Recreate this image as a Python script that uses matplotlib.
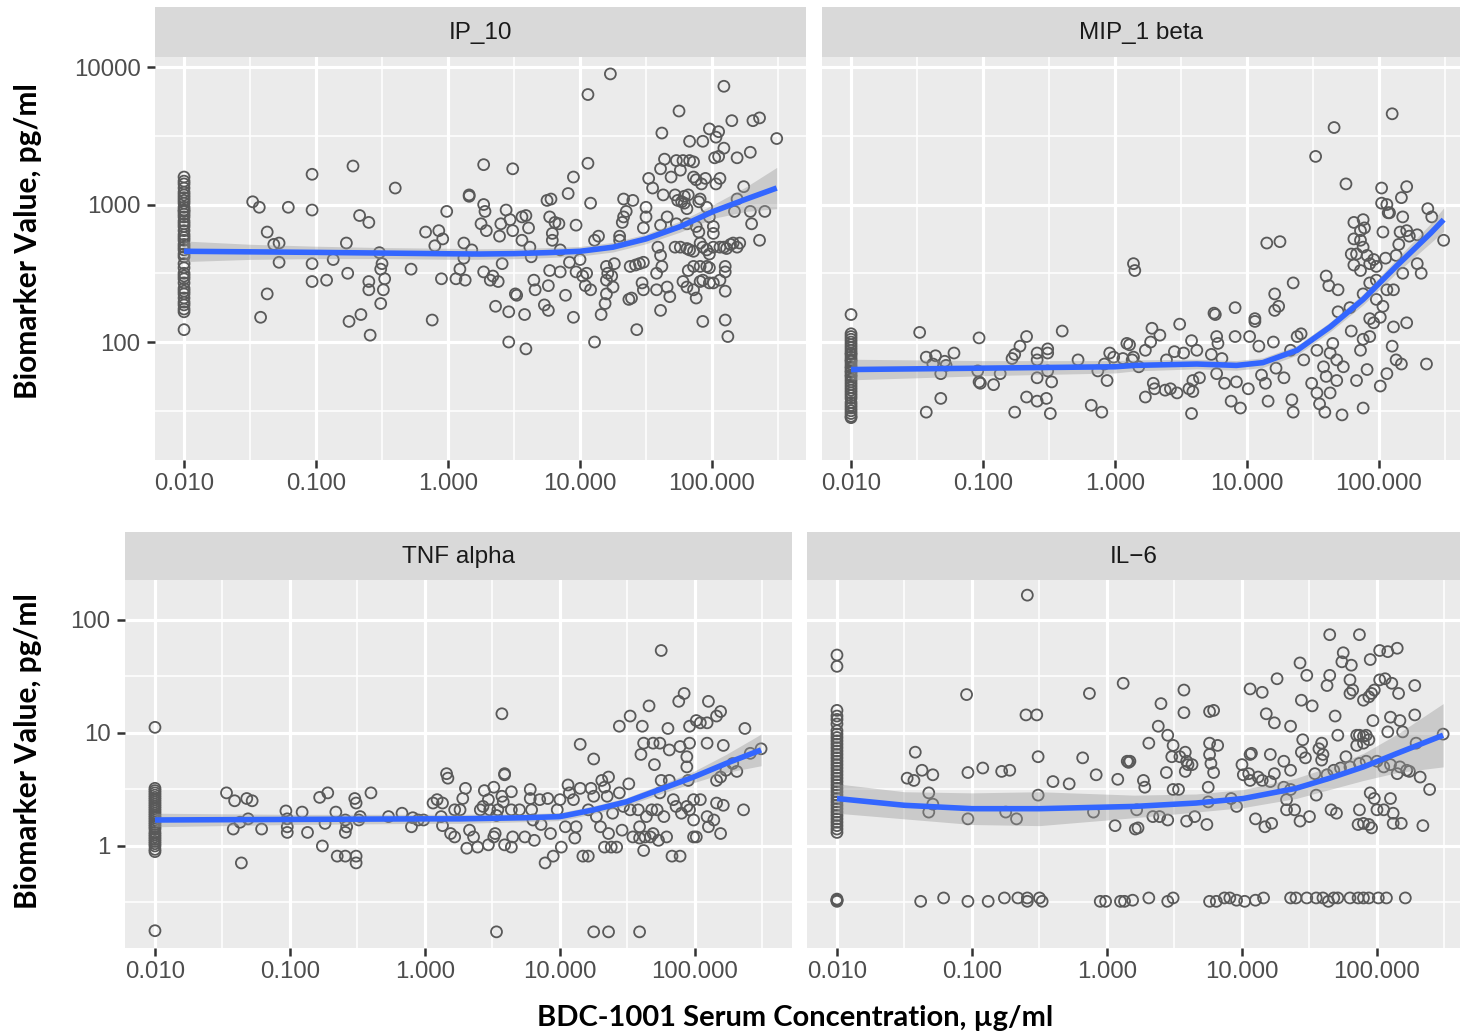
import numpy as np
import matplotlib
matplotlib.use("Agg")
import matplotlib.pyplot as plt
from matplotlib.ticker import FixedLocator, FixedFormatter, NullFormatter

plt.rcParams['font.family'] = ['Liberation Sans', 'DejaVu Sans']

# ---------------- DATA (log10 units) ----------------
# x = log10(BDC-1001 serum concentration, ug/ml); y = log10(biomarker, pg/ml)
# points at the 0.010 ug/ml column (below quantitation)
LOD_X = -2.0

ip10_lod = [3.20, 3.17, 3.15, 3.12, 3.09, 3.07, 3.05, 3.03, 3.01, 2.98, 2.96, 2.95, 2.93, 2.91,
            2.88, 2.86, 2.84, 2.81, 2.78, 2.76, 2.74, 2.71, 2.69, 2.67, 2.64, 2.62, 2.57, 2.54,
            2.50, 2.48, 2.46, 2.43, 2.39, 2.37, 2.35, 2.32, 2.29, 2.27, 2.24, 2.22, 2.09]
ip10_pts = [(-1.48,3.02),(-1.43,2.98),(-1.21,2.98),(-1.03,3.22),(-1.03,2.96),(-0.72,3.28),(-0.40,3.12),
    (-1.37,2.80),(-1.32,2.71),(-1.28,2.72),(-1.28,2.58),(-1.37,2.35),(-1.42,2.18),(-1.03,2.57),(-1.03,2.44),
    (-0.92,2.45),(-0.87,2.60),(-0.77,2.72),(-0.76,2.50),(-0.67,2.92),(-0.60,2.87),(-0.75,2.15),(-0.66,2.20),
    (-0.59,2.05),(-0.52,2.65),(-0.50,2.57),(-0.51,2.53),(-0.48,2.46),(-0.60,2.44),(-0.60,2.38),(-0.49,2.38),
    (-0.51,2.28),(-0.28,2.53),(-0.17,2.80),(-0.07,2.81),(-0.04,2.75),(-0.10,2.70),(-0.01,2.95),(-0.12,2.16),
    (-0.05,2.46),(0.06,2.46),(0.13,2.45),(0.09,2.53),(0.12,2.61),(0.12,2.72),(0.18,2.67),(0.16,3.07),(0.16,3.06),
    (0.27,3.29),(0.49,3.26),(0.27,3.00),(0.28,2.95),(0.29,2.81),(0.25,2.86),(0.27,2.51),(0.32,2.45),(0.38,2.44),
    (0.34,2.48),(0.36,2.26),(0.46,2.22),(0.46,2.00),(0.59,1.95),(0.58,2.20),(0.52,2.34),(0.51,2.35),(0.41,2.57),
    (0.39,2.77),(0.40,2.86),(0.44,2.96),(0.47,2.89),(0.49,2.81),(0.56,2.74),(0.56,2.91),(0.59,2.92),(0.61,2.83),
    (0.62,2.69),(0.63,2.62),(0.65,2.45),(0.66,2.38),(0.73,2.27),(0.76,2.23),(0.76,2.41),(0.77,2.52),(0.85,2.51),
    (0.89,2.34),(0.91,3.08),(0.95,3.20),(0.97,2.85),(0.95,2.18),(0.75,3.03),(0.78,3.04),(0.77,2.91),(0.81,2.87),
    (0.84,2.86),(0.79,2.79),(0.79,2.74),(0.85,2.67),(0.92,2.58),(0.97,2.51),(1.00,2.60),(1.02,2.48),(1.04,2.41),
    (1.05,2.50),(1.08,2.38),(1.11,2.00),(1.06,3.80),(1.06,3.30),(1.08,3.01),(1.11,2.74),(1.14,2.77),(1.16,2.20),
    (1.20,2.35),(1.20,2.45),(1.21,2.50),(1.24,2.48),(1.25,2.40),(1.19,2.28),(1.23,3.95),(1.20,2.55),(1.26,2.57),
    (1.30,2.77),(1.33,3.04),(1.40,3.03),(1.35,2.95),(1.33,2.91),(1.32,2.87),(1.30,2.74),(1.37,2.31),(1.39,2.32),
    (1.38,2.55),(1.43,2.09),(1.42,2.56),(1.45,2.57),(1.48,2.58),(1.47,2.43),(1.48,2.38),(1.50,2.98),(1.50,2.91),
    (1.48,2.83),(1.52,3.19),(1.55,3.12),(1.62,3.52),(1.61,3.26),(1.64,3.33),(1.69,3.20),(1.63,3.07),(1.66,2.91),
    (1.61,2.85),(1.59,2.69),(1.61,2.63),(1.62,2.55),(1.58,2.50),(1.58,2.38),(1.66,2.40),(1.68,2.33),(1.61,2.23),
    (1.73,3.32),(1.76,3.25),(1.78,3.32),(1.75,3.68),(1.72,3.07),(1.74,3.03),(1.77,3.02),(1.79,3.06),(1.79,3.01),
    (1.81,2.97),(1.82,3.07),(1.83,3.32),(1.86,3.31),(1.83,3.46),(1.93,3.46),(1.86,3.20),(1.88,3.18),(1.92,3.15),
    (1.95,3.19),(1.91,3.04),(1.90,3.02),(1.96,2.98),(1.98,2.91),(1.88,2.84),(1.90,2.80),(1.81,2.86),(1.73,2.86),
    (1.72,2.69),(1.76,2.69),(1.81,2.68),(1.83,2.67),(1.86,2.66),(1.91,2.72),(1.93,2.69),(1.96,2.67),(1.98,2.64),
    (2.01,2.69),(2.06,2.69),(1.82,2.52),(1.86,2.55),(1.91,2.55),(1.96,2.55),(1.98,2.54),(1.78,2.44),(1.81,2.40),
    (1.86,2.38),(1.91,2.44),(1.93,2.45),(1.98,2.43),(2.01,2.43),(1.88,2.32),(1.93,2.15),(1.98,3.55),(2.05,3.53),
    (2.03,3.49),(2.09,3.41),(2.02,3.34),(2.05,3.35),(2.09,3.86),(2.06,3.19),(2.03,3.15),(2.01,2.84),(2.01,2.79),
    (2.09,2.69),(2.11,2.68),(2.14,2.71),(2.19,2.69),(2.16,2.72),(2.21,2.72),(2.10,2.55),(2.10,2.51),(2.06,2.45),
    (2.10,2.37),(2.10,2.16),(2.12,2.04),(2.15,3.61),(2.19,3.34),(2.29,3.38),(2.31,3.61),(2.36,3.63),(2.24,3.13),
    (2.19,3.04),(2.17,2.95),(2.29,2.95),(2.30,2.86),(2.40,2.95),(2.36,2.74),(2.49,3.48)]
ip10_fit_x = [-2.0, -1.5, -1.0, -0.5, 0.0, 0.24, 0.5, 0.75, 1.0, 1.25, 1.5, 1.76, 2.01, 2.26, 2.49]
ip10_fit_y = [2.66, 2.656, 2.652, 2.647, 2.642, 2.64, 2.643, 2.65, 2.66, 2.69, 2.75, 2.84, 2.95, 3.04, 3.12]
ip10_fit_se = [0.075, 0.055, 0.045, 0.04, 0.04, 0.038, 0.037, 0.036, 0.035, 0.035, 0.035, 0.04, 0.05, 0.09, 0.15]

mip_lod = [2.20, 2.06, 2.04, 2.02, 2.00, 1.98, 1.96, 1.94, 1.92, 1.91, 1.89, 1.87, 1.86, 1.84, 1.82,
           1.81, 1.79, 1.78, 1.76, 1.75, 1.73, 1.71, 1.69, 1.67, 1.65, 1.63, 1.61, 1.59, 1.56, 1.54,
           1.52, 1.50, 1.48, 1.46, 1.45]
mip_pts = [(-1.48,2.07),(-1.43,1.89),(-1.36,1.90),(-1.38,1.84),(-1.29,1.86),(-1.28,1.83),(-1.32,1.77),
    (-1.22,1.92),(-1.32,1.59),(-1.43,1.49),(-1.03,2.03),(-1.04,1.79),(-1.03,1.71),(-1.02,1.70),(-0.92,1.69),
    (-0.87,1.77),(-0.78,1.88),(-0.76,1.91),(-0.72,1.97),(-0.67,2.04),(-0.59,1.92),(-0.59,1.87),(-0.51,1.95),
    (-0.51,1.92),(-0.59,1.74),(-0.51,1.79),(-0.48,1.71),(-0.67,1.60),(-0.59,1.57),(-0.52,1.59),(-0.49,1.48),
    (-0.76,1.49),(-0.40,2.08),(-0.28,1.87),(-0.18,1.54),(-0.10,1.49),(-0.13,1.79),(-0.06,1.72),(-0.08,1.84),
    (-0.04,1.92),(-0.01,1.89),(0.09,1.99),(0.06,1.88),(0.13,1.87),(0.14,2.57),(0.15,2.52),
    (0.11,1.98),(0.14,1.89),(0.18,1.82),(0.23,1.60),(0.23,1.94),(0.27,2.00),(0.28,2.10),(0.34,2.05),(0.29,1.70),
    (0.30,1.66),(0.38,1.65),(0.42,1.66),(0.47,1.63),(0.39,1.87),(0.45,1.93),(0.52,1.92),(0.49,2.13),(0.58,1.48),
    (0.58,2.01),(0.62,1.94),(0.59,1.72),(0.64,1.74),(0.56,1.66),(0.59,1.64),(0.73,1.91),(0.75,2.21),(0.76,2.20),
    (0.77,2.04),(0.78,1.99),(0.77,1.77),(0.81,1.88),(0.83,1.70),(0.88,1.57),(0.95,1.52),(0.91,2.25),(0.91,2.04),
    (0.92,1.71),(1.01,1.66),(1.02,2.04),(1.06,2.17),(1.06,2.15),(1.09,1.97),(1.11,1.76),(1.14,1.70),(1.16,1.57),
    (1.15,2.72),(1.25,2.73),(1.21,2.35),(1.21,2.23),(1.24,2.26),(1.20,2.00),(1.22,1.81),(1.28,1.74),(1.34,1.58),
    (1.35,2.43),(1.35,1.49),(1.33,1.94),(1.38,2.04),(1.41,2.06),(1.43,1.87),(1.49,1.70),(1.53,1.63),(1.55,1.55),
    (1.59,1.49),(1.60,2.48),(1.62,2.41),(1.69,2.38),(1.72,1.47),(1.63,1.63),(1.69,2.22),(1.78,2.25),(1.79,2.08),
    (1.65,1.99),(1.63,1.92),(1.68,1.87),(1.73,1.82),(1.58,1.82),(1.53,1.94),(1.60,1.75),(1.68,1.72),(1.83,1.72),
    (1.88,1.52),(1.86,1.94),(1.88,2.02),(1.93,2.04),(1.91,1.80),(2.01,1.68),(2.06,1.77),(1.96,2.14),(2.01,2.18),
    (1.93,2.17),(1.98,2.31),(2.03,2.26),(2.06,2.38),(2.11,2.38),(1.88,2.35),(1.93,2.43),(1.98,2.45),(1.81,2.56),
    (1.86,2.52),(1.93,2.57),(1.96,2.60),(1.98,2.55),(1.91,2.63),(1.88,2.69),(1.86,2.74),(1.83,2.64),(1.79,2.64),
    (1.81,2.75),(1.86,2.81),(1.89,2.83),(1.81,2.87),(1.88,2.89),(2.03,2.80),(2.05,2.61),(2.13,2.63),(2.15,2.71),
    (2.16,2.80),(2.21,2.81),(2.23,2.77),(2.29,2.78),(2.29,2.57),(2.32,2.50),(2.18,2.50),(2.21,2.14),(2.11,2.11),
    (2.10,1.97),(2.13,1.87),(2.17,1.84),(2.36,1.84),(2.49,2.74),(2.37,2.97),(2.40,2.91),(2.18,2.91),(2.02,3.01),
    (2.06,3.00),(2.07,2.94),(2.17,3.05),(2.21,3.13),(2.02,3.12),(1.75,3.15),(1.52,3.35),(1.66,3.56),(2.10,3.66),
    (2.08,2.94)]
mip_fit_x = [-2.0, -1.0, 0.0, 0.15, 0.62, 0.92, 1.12, 1.38, 1.63, 1.88, 2.13, 2.39, 2.49]
mip_fit_y = [1.80, 1.81, 1.82, 1.83, 1.84, 1.83, 1.85, 1.94, 2.11, 2.31, 2.55, 2.79, 2.89]
mip_fit_se = [0.075, 0.055, 0.045, 0.04, 0.035, 0.035, 0.035, 0.035, 0.035, 0.04, 0.05, 0.07, 0.085]

tnf_lod = [1.05, 0.51, 0.49, 0.47, 0.45, 0.43, 0.41, 0.39, 0.37, 0.35, 0.33, 0.31, 0.29, 0.27, 0.25,
           0.23, 0.21, 0.19, 0.17, 0.15, 0.12, 0.10, 0.08, 0.06, 0.04, 0.02, 0.00, -0.03, -0.05, -0.75]
tnf_pts = [(-1.47,0.47),(-1.41,0.40),(-1.32,0.42),(-1.28,0.40),(-1.31,0.24),(-1.37,0.21),(-1.42,0.15),
    (-1.21,0.15),(-1.36,-0.15),(-1.03,0.31),(-1.02,0.24),(-1.02,0.17),(-1.02,0.12),(-0.91,0.30),(-0.87,0.12),
    (-0.78,0.43),(-0.72,0.47),(-0.66,0.30),(-0.74,0.20),(-0.76,0.00),(-0.65,-0.09),(-0.59,-0.09),(-0.51,-0.09),
    (-0.51,-0.15),(-0.59,0.23),(-0.58,0.17),(-0.59,0.12),(-0.52,0.42),(-0.51,0.38),(-0.48,0.26),(-0.49,0.23),
    (-0.40,0.47),(-0.27,0.26),(-0.17,0.29),(-0.10,0.17),(-0.09,0.25),(-0.05,0.23),(-0.01,0.23),(0.06,0.38),
    (0.09,0.41),(0.13,0.38),(0.12,0.26),(0.13,0.18),(0.16,0.64),(0.17,0.60),(0.19,0.11),(0.22,0.08),(0.22,0.32),
    (0.26,0.32),(0.30,0.51),(0.28,0.42),(0.33,0.14),(0.31,-0.02),(0.36,0.08),(0.39,-0.01),(0.41,0.32),(0.44,0.49),
    (0.43,0.35),(0.47,0.41),(0.48,0.32),(0.51,0.52),(0.51,0.08),(0.52,0.11),(0.47,0.01),(0.53,0.27),(0.54,0.32),
    (0.57,0.44),(0.58,0.39),(0.59,0.63),(0.59,0.01),(0.64,0.48),(0.64,0.32),(0.65,0.08),(0.64,-0.01),(0.70,0.32),
    (0.74,0.08),(0.78,0.50),(0.78,0.42),(0.79,0.32),(0.80,0.23),(0.81,0.05),(0.85,0.41),(0.86,0.19),(0.89,-0.15),
    (0.91,0.42),(0.93,0.11),(0.95,-0.09),(0.98,0.32),(1.00,0.41),(1.01,-0.01),(1.04,0.17),(1.06,0.54),(1.07,0.47),
    (1.10,0.41),(1.11,0.07),(1.12,0.17),(1.15,0.51),(1.17,-0.09),(1.21,-0.09),(1.21,0.32),(1.23,0.51),(1.25,0.44),
    (1.27,0.26),(1.30,0.17),(1.31,0.58),(1.33,0.52),(1.36,0.61),(1.35,0.44),(1.36,0.11),(1.33,-0.01),(1.38,-0.01),
    (1.42,-0.01),(1.39,0.29),(1.44,0.47),(1.46,0.14),(1.47,0.35),(1.51,0.55),(1.52,0.32),(1.54,0.08),(1.58,0.32),
    (1.59,0.17),(1.59,0.07),(1.62,-0.04),(1.63,0.08),(1.64,0.26),(1.67,0.08),(1.68,0.32),(1.69,0.11),(1.72,0.32),
    (1.73,0.05),(1.74,0.47),(1.75,0.58),(1.77,0.26),(1.79,0.08),(1.81,0.58),(1.84,0.41),(1.86,0.35),(1.83,-0.09),
    (1.89,-0.09),(1.90,0.29),(1.94,0.35),(1.96,0.32),(1.99,0.08),(2.01,0.08),(1.99,0.23),(1.99,0.41),(2.04,0.41),
    (2.09,0.26),(2.10,0.17),(2.14,0.23),(2.19,0.11),(2.16,0.38),(2.21,0.36),(2.16,0.58),(2.19,0.61),(2.23,0.67),
    (2.28,0.73),(2.31,0.66),(2.36,0.32),(2.41,0.82),(1.15,0.90),(1.25,0.77),(1.44,1.06),(1.52,1.15),(1.61,1.06),
    (1.66,1.24),(1.60,0.81),(1.62,0.91),(1.70,0.72),(1.69,0.91),(1.74,0.91),(1.80,1.04),(1.81,0.85),(1.88,1.28),
    (1.92,1.35),(1.96,1.06),(1.89,0.88),(1.96,0.91),(1.94,0.79),(1.94,0.70),(1.95,0.58),(2.01,1.11),(2.04,1.09),
    (2.09,1.09),(2.10,1.28),(2.19,1.19),(2.16,1.15),(2.09,0.91),(2.21,0.89),(2.37,1.04),(2.49,0.86),(0.57,1.17),
    (0.59,0.64),(1.75,1.73),(0.53,-0.76),(1.25,-0.76),(1.36,-0.76),(1.59,-0.76)]
tnf_fit_x = [-2.0, -1.0, 0.0, 0.26, 0.75, 1.0, 1.25, 1.49, 1.74, 1.99, 2.23, 2.49]
tnf_fit_y = [0.23, 0.235, 0.24, 0.24, 0.25, 0.26, 0.32, 0.39, 0.50, 0.61, 0.73, 0.85]
tnf_fit_se = [0.06, 0.045, 0.04, 0.04, 0.035, 0.035, 0.035, 0.035, 0.04, 0.05, 0.08, 0.14]

il6_lod = [1.69, 1.59, 1.20, 1.15, 1.12, 1.08, 1.02, 0.99, 0.96, 0.93, 0.90, 0.87, 0.84, 0.81, 0.78,
           0.75, 0.72, 0.69, 0.66, 0.63, 0.60, 0.57, 0.54, 0.51, 0.48, 0.45, 0.42, 0.39, 0.36, 0.33,
           0.30, 0.27, 0.24, 0.21, 0.18, 0.15, 0.12, -0.47, -0.48, -0.49, -0.48]
il6_pts = [(-0.59,2.22),(-1.04,1.34),(-0.13,1.35),(0.12,1.44),(-0.60,1.16),(-0.52,1.16),(-1.42,0.83),
    (-1.48,0.60),(-1.43,0.58),(-1.37,0.67),(-1.29,0.63),(-1.32,0.47),(-1.29,0.37),(-1.32,0.30),(-1.03,0.65),
    (-0.92,0.69),(-0.78,0.66),(-0.72,0.67),(-0.51,0.79),(-0.51,0.45),(-0.75,0.30),(-0.67,0.24),(-1.03,0.24),
    (-0.40,0.57),(-0.28,0.55),(-0.18,0.78),(-0.08,0.63),(-0.10,0.30),(0.08,0.59),(0.15,0.75),(0.16,0.74),
    (0.06,0.18),(0.21,0.15),
    (-1.38,-0.49),(-1.21,-0.46),(-1.03,-0.49),(-0.88,-0.49),(-0.76,-0.46),(-0.66,-0.46),(-0.59,-0.46),
    (-0.59,-0.49),(-0.50,-0.46),(-0.48,-0.49),(-0.05,-0.49),(-0.01,-0.49),(0.10,-0.49),(0.13,-0.49),
    (0.17,0.75),(0.22,0.32),(0.23,0.16),(0.27,0.58),(0.28,0.52),(0.31,0.91),(0.34,0.26),(0.39,0.26),(0.38,1.06),
    (0.40,1.26),(0.44,0.65),(0.45,0.98),(0.45,0.23),(0.49,0.89),(0.48,0.79),(0.49,0.50),(0.53,0.50),(0.54,0.79),
    (0.57,1.18),(0.57,1.38),(0.58,0.83),(0.58,0.66),(0.59,0.75),(0.60,0.72),(0.63,0.72),(0.65,0.26),(0.59,0.22),
    (0.75,0.52),(0.75,0.39),(0.74,0.19),(0.76,0.91),(0.76,0.81),(0.77,0.73),(0.76,1.19),(0.79,1.20),(0.79,0.65),
    (0.82,0.89),(0.92,0.42),(0.96,0.35),(1.00,0.72),(1.01,0.63),(1.06,0.81),(1.07,0.82),(1.05,0.64),(1.06,0.58),
    (1.06,1.39),(1.15,1.36),(1.10,0.24),(1.12,0.61),(1.15,0.58),(1.17,0.17),(1.21,0.81),(1.21,0.57),(1.22,0.20),
    (1.18,1.17),(1.24,1.09),(1.26,1.48),(1.24,0.64),(1.31,0.75),(1.31,0.52),(1.33,0.41),(1.33,0.32),(1.36,1.06),
    (1.36,0.67),(1.36,0.50),(1.39,0.32),(1.43,1.62),(1.48,1.51),(1.44,1.29),(1.52,1.24),(1.43,0.22),(1.50,0.26),
    (1.44,0.83),(1.45,0.94),(1.47,0.78),(1.54,0.64),(1.55,0.45),(1.57,0.86),(1.59,0.91),(1.59,0.76),(1.60,0.81),
    (1.63,0.63),(1.65,1.87),(1.65,1.51),(1.63,1.42),(1.68,0.67),(1.66,0.32),(1.70,0.29),(1.69,1.15),(1.71,0.98),
    (1.73,0.69),(1.75,1.71),(1.74,1.63),(1.81,1.60),(1.80,1.47),(1.80,1.35),(1.82,1.38),(1.85,0.98),(1.87,0.98),
    (1.90,0.97),(1.92,0.98),(1.90,0.91),(1.85,0.89),(1.94,0.94),(1.87,1.87),(1.90,1.29),(1.94,1.32),(1.96,1.35),
    (1.98,1.38),(2.02,1.47),(2.06,1.48),(2.11,1.44),(2.16,1.35),(1.95,1.65),(2.02,1.73),(2.08,1.72),(2.15,1.75),
    (1.97,1.11),(2.10,1.14),(2.17,1.11),(2.19,1.01),(2.08,1.01),(2.28,1.42),(2.28,1.16),(1.77,0.79),(1.80,0.70),
    (1.87,0.73),(1.92,0.75),(2.00,0.75),(2.05,0.70),(2.10,0.72),(2.15,0.64),(2.17,0.70),(2.22,0.67),(2.24,0.66),
    (2.29,0.91),(2.32,0.61),(2.39,0.50),(1.95,0.47),(1.98,0.42),(2.10,0.42),(2.00,0.32),(2.05,0.32),(2.12,0.29),
    (1.87,0.32),(1.94,0.19),(1.96,0.16),(1.86,0.19),(1.90,0.20),(2.12,0.20),(2.18,0.20),(2.34,0.18),(2.49,0.99),
    (0.19,-0.48),(0.31,-0.46),(0.45,-0.49),(0.49,-0.46),(0.76,-0.49),(0.81,-0.49),(0.87,-0.46),(0.91,-0.46),
    (0.96,-0.48),(1.02,-0.49),(1.10,-0.48),(1.16,-0.46),(1.36,-0.46),(1.40,-0.46),(1.48,-0.46),(1.55,-0.46),
    (1.60,-0.46),(1.64,-0.49),(1.68,-0.46),(1.71,-0.46),(1.80,-0.46),(1.86,-0.46),(1.90,-0.46),(1.94,-0.46),
    (2.01,-0.46),(2.07,-0.46),(2.21,-0.46)]
il6_fit_x = [-2.0, -1.5, -1.0, -0.5, 0.2, 0.66, 1.01, 1.40, 1.65, 1.90, 2.15, 2.49]
il6_fit_y = [0.42, 0.36, 0.33, 0.33, 0.35, 0.38, 0.42, 0.51, 0.60, 0.70, 0.82, 0.98]
il6_fit_se = [0.13, 0.12, 0.14, 0.15, 0.10, 0.08, 0.08, 0.09, 0.10, 0.12, 0.17, 0.28]

panel_titles = ['IP_10', 'MIP_1 beta', 'TNF alpha', 'IL\u22126']
x_tick_vals = [0.01, 0.1, 1, 10, 100]
x_tick_labels = ['0.010', '0.100', '1.000', '10.000', '100.000']
top_y_ticks = [100, 1000, 10000]
top_y_labels = ['100', '1000', '10000']
bot_y_ticks = [1, 10, 100]
bot_y_labels = ['1', '10', '100']

# ---------------- LAYOUT ----------------
W, H = 1460, 1035
fig = plt.figure(figsize=(W / 100, H / 100), dpi=100)
fig.patch.set_facecolor('white')


def box(x0, y0, x1, y1):
    return [x0 / W, 1 - y1 / H, (x1 - x0) / W, (y1 - y0) / H]


def panel(px, title, lod, pts, fx, fy, fse, xlim, ylim, yt, ytl, ymin_minor, show_y):
    x0, x1, yt_px, yb_px, st_px = px
    ax = fig.add_axes(box(x0, yt_px, x1, yb_px))
    ax.set_facecolor('#EBEBEB')
    ax.set_xscale('log')
    ax.set_yscale('log')
    ax.set_xlim(10 ** xlim[0], 10 ** xlim[1])
    ax.set_ylim(10 ** ylim[0], 10 ** ylim[1])
    for s in ax.spines.values():
        s.set_visible(False)
    # grid
    ax.xaxis.set_major_locator(FixedLocator(x_tick_vals))
    ax.xaxis.set_major_formatter(FixedFormatter(x_tick_labels))
    ax.xaxis.set_minor_locator(FixedLocator([10 ** (e + 0.5) for e in range(-3, 3)]))
    ax.xaxis.set_minor_formatter(NullFormatter())
    ax.yaxis.set_major_locator(FixedLocator(yt))
    ax.yaxis.set_major_formatter(FixedFormatter(ytl))
    ax.yaxis.set_minor_locator(FixedLocator([10 ** (e + 0.5) for e in range(ymin_minor, ymin_minor + 5)]))
    ax.yaxis.set_minor_formatter(NullFormatter())
    ax.grid(which='major', color='white', lw=2.3)
    ax.grid(which='minor', color='white', lw=1.1)
    ax.set_axisbelow(True)
    ax.tick_params(which='minor', length=0)
    ax.tick_params(which='major', length=5.8, width=1.8, color='#333333',
                   labelcolor='#4D4D4D', labelsize=17.3)
    ax.tick_params(axis='x', which='major', pad=3.5)
    ax.tick_params(axis='y', which='major', pad=4.5)
    if not show_y:
        ax.tick_params(axis='y', which='major', length=0, labelleft=False)
    # points
    xs = [LOD_X] * len(lod) + [p[0] for p in pts]
    ys = list(lod) + [p[1] for p in pts]
    ax.scatter(10 ** np.array(xs), 10 ** np.array(ys), s=62, facecolors='none',
               edgecolors='#595959', linewidths=1.3, zorder=3)
    # smooth + ribbon
    fx = np.array(fx); fy = np.array(fy); fse = np.array(fse)
    ax.fill_between(10 ** fx, 10 ** (fy - fse), 10 ** (fy + fse), color='#999999',
                    alpha=0.4, lw=0, zorder=4)
    ax.plot(10 ** fx, 10 ** fy, color='#3366FF', lw=4.0, zorder=5, solid_capstyle='butt')
    # strip
    sa = fig.add_axes(box(x0, st_px, x1, yt_px))
    sa.set_facecolor('#D9D9D9')
    sa.set_xticks([]); sa.set_yticks([])
    for s in sa.spines.values():
        s.set_visible(False)
    sa.text(0.5, 0.47, title, ha='center', va='center', fontsize=17.5, color='#1A1A1A',
            transform=sa.transAxes)
    return ax


top_ylim = (1.142, 4.073)
bot_ylim = (-0.903, 2.354)

panel((155, 806, 57, 460, 7), panel_titles[0], ip10_lod, ip10_pts, ip10_fit_x, ip10_fit_y, ip10_fit_se,
      (-2.220, 2.712), top_ylim, top_y_ticks, top_y_labels, 0, True)
panel((822, 1460, 57, 460, 7), panel_titles[1], mip_lod, mip_pts, mip_fit_x, mip_fit_y, mip_fit_se,
      (-2.220, 2.614), top_ylim, top_y_ticks, top_y_labels, 0, False)
panel((125, 792, 580, 948, 532), panel_titles[2], tnf_lod, tnf_pts, tnf_fit_x, tnf_fit_y, tnf_fit_se,
      (-2.222, 2.719), bot_ylim, bot_y_ticks, bot_y_labels, -2, True)
panel((807, 1460, 580, 948, 532), panel_titles[3], il6_lod, il6_pts, il6_fit_x, il6_fit_y, il6_fit_se,
      (-2.222, 2.615), bot_ylim, bot_y_ticks, bot_y_labels, -2, False)

lab_kw = dict(fontweight='bold', family=['Lato', 'DejaVu Sans'], color='black')
fig.text(28 / W, 1 - 241 / H, 'Biomarker Value, pg/ml', rotation=90, ha='center', va='center',
         fontsize=21.5, **lab_kw)
fig.text(28 / W, 1 - 751 / H, 'Biomarker Value, pg/ml', rotation=90, ha='center', va='center',
         fontsize=21.5, **lab_kw)
fig.text(795 / W, 1 - 1018 / H, 'BDC-1001 Serum Concentration, \u00b5g/ml', ha='center', va='center',
         fontsize=21, **lab_kw)

fig.savefig('out.png', dpi=100)
